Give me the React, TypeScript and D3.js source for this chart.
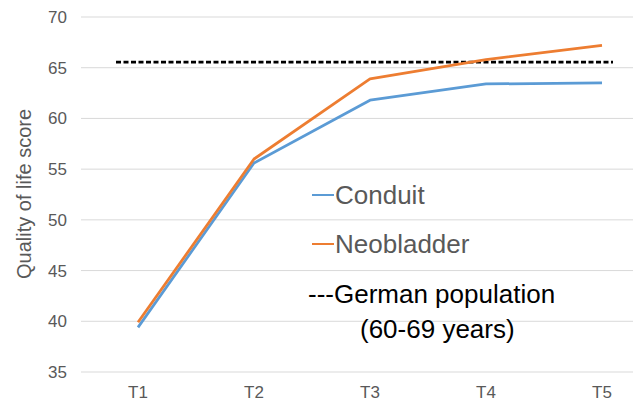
import React, { useEffect, useRef } from "react";
import * as d3 from "d3";

// Time points on the x axis
const timepoints = ["T1", "T2", "T3", "T4", "T5"];
// Quality of life scores per group
const conduit = [39.4, 55.6, 61.8, 63.4, 63.5];
const neobladder = [39.9, 56.0, 63.9, 65.8, 67.2];
// German reference population (60-69 years)
const germanPopulation = 65.55;
// y axis ticks
const yTicks = [35, 40, 45, 50, 55, 60, 65, 70];

export default function App() {
  const ref = useRef<SVGSVGElement>(null);

  useEffect(() => {
    const svg = d3.select(ref.current);
    svg.selectAll("*").remove();

    const width = 636,
      height = 405;
    const gridLeft = 81,
      gridRight = 633;
    const font = "'Liberation Sans', Arial, sans-serif";

    // x scale: point scale for categories
    const x = d3.scalePoint<string>().domain(timepoints).range([138, 602]);

    // y scale
    const y = d3.scaleLinear().domain([35, 70]).range([372, 17]);

    // Gridlines
    svg
      .append("g")
      .selectAll("line")
      .data(yTicks)
      .join("line")
      .attr("x1", gridLeft)
      .attr("x2", gridRight)
      .attr("y1", d => y(d))
      .attr("y2", d => y(d))
      .attr("stroke", "#d9d9d9")
      .attr("stroke-width", 1);

    // Y tick labels
    svg
      .append("g")
      .selectAll("text")
      .data(yTicks)
      .join("text")
      .attr("x", 67)
      .attr("y", d => y(d))
      .attr("dy", "0.35em")
      .attr("text-anchor", "end")
      .style("font-family", font)
      .style("font-size", "17px")
      .attr("fill", "#595959")
      .text(d => d);

    // X tick labels
    svg
      .append("g")
      .selectAll("text")
      .data(timepoints)
      .join("text")
      .attr("x", d => x(d)!)
      .attr("y", 398)
      .attr("text-anchor", "middle")
      .style("font-family", font)
      .style("font-size", "17px")
      .attr("fill", "#595959")
      .text(d => d);

    // Y axis title
    svg
      .append("text")
      .attr("transform", `translate(31,${(105 + 283) / 2}) rotate(-90)`)
      .attr("text-anchor", "middle")
      .style("font-family", font)
      .style("font-size", "20px")
      .attr("fill", "#595959")
      .text("Quality of life score");

    // Reference line
    svg
      .append("line")
      .attr("x1", 116)
      .attr("x2", 613)
      .attr("y1", y(germanPopulation))
      .attr("y2", y(germanPopulation))
      .attr("stroke", "#000")
      .attr("stroke-width", 2.75)
      .attr("stroke-dasharray", "5,2.5");

    // Lines
    const line = d3
      .line<number>()
      .x((_, i) => x(timepoints[i])!)
      .y(d => y(d));

    const series = [
      { values: conduit, color: "#5B9BD5" },
      { values: neobladder, color: "#ED7D31" }
    ];

    svg
      .append("g")
      .selectAll("path")
      .data(series)
      .join("path")
      .attr("d", d => line(d.values))
      .attr("fill", "none")
      .attr("stroke", d => d.color)
      .attr("stroke-width", 2.75)
      .attr("stroke-linejoin", "round");

    // Legend (text labels inside plot)
    const legend = [
      { label: "Conduit", color: "#5B9BD5", y: 204 },
      { label: "Neobladder", color: "#ED7D31", y: 253 }
    ];
    legend.forEach(l => {
      svg
        .append("line")
        .attr("x1", 312)
        .attr("x2", 334)
        .attr("y1", l.y - 9)
        .attr("y2", l.y - 9)
        .attr("stroke", l.color)
        .attr("stroke-width", 2);
      svg
        .append("text")
        .attr("x", 335)
        .attr("y", l.y)
        .style("font-family", font)
        .style("font-size", "26px")
        .attr("fill", "#595959")
        .text(l.label);
    });

    svg
      .append("text")
      .attr("x", 308)
      .attr("y", 303)
      .style("font-family", font)
      .style("font-size", "26px")
      .attr("fill", "#000")
      .text("---German population");

    svg
      .append("text")
      .attr("x", 360)
      .attr("y", 338)
      .style("font-family", font)
      .style("font-size", "26px")
      .attr("fill", "#000")
      .text("(60-69 years)");

    svg.attr("width", width).attr("height", height);
  }, []);

  return (
    <svg
      ref={ref}
      width={636}
      height={405}
      style={{ position: "absolute", left: 0, top: 0, background: "#fff" }}
    />
  );
}
